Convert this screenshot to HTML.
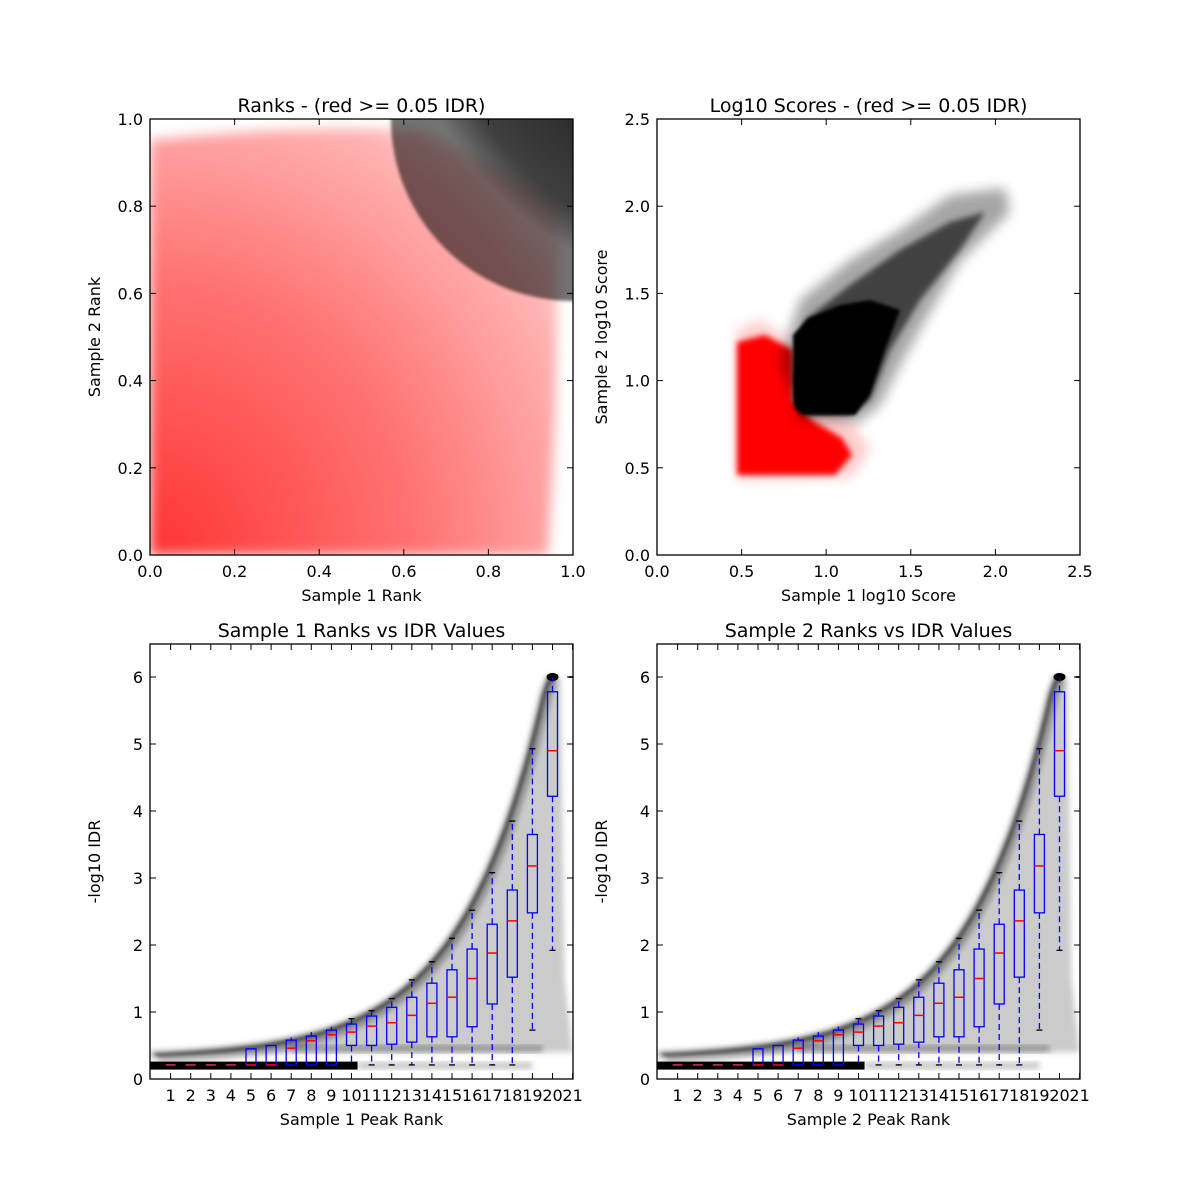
<!DOCTYPE html>
<html><head><meta charset="utf-8"><style>
html,body{margin:0;padding:0;background:#fff;}
svg{display:block;font-family:"DejaVu Sans","Liberation Sans",sans-serif;}
</style></head><body>
<svg id="s" width="1200" height="1200" xmlns="http://www.w3.org/2000/svg">
<defs>
<radialGradient id="rg" cx="0" cy="1" r="1.3">
<stop offset="0" stop-color="#f00" stop-opacity="0.8"/>
<stop offset="0.5" stop-color="#f00" stop-opacity="0.55"/>
<stop offset="0.85" stop-color="#f00" stop-opacity="0.3"/>
<stop offset="1" stop-color="#f00" stop-opacity="0.08"/>
</radialGradient>
<radialGradient id="bg" cx="1" cy="0" r="1">
<stop offset="0" stop-color="#000" stop-opacity="1"/>
<stop offset="0.45" stop-color="#000" stop-opacity="0.92"/>
<stop offset="0.9" stop-color="#000" stop-opacity="0.75"/>
<stop offset="1" stop-color="#000" stop-opacity="0.55"/>
</radialGradient>
<filter id="bl"><feGaussianBlur stdDeviation="3"/></filter>
<filter id="bl2"><feGaussianBlur stdDeviation="6"/></filter>
<filter id="bl1"><feGaussianBlur stdDeviation="1.5"/></filter>
<clipPath id="c1"><rect x="150" y="119" width="423" height="436"/></clipPath>
<clipPath id="c3"><rect x="150" y="644" width="423" height="435"/></clipPath>
<clipPath id="c4"><rect x="657" y="644" width="423" height="435"/></clipPath>
</defs>
<g clip-path="url(#c1)">
<path d="M150,555 L150,140 Q300,125 420,130 L560,200 L555,420 L548,555 Z" fill="url(#rg)" filter="url(#bl2)"/>
<circle cx="573" cy="119" r="182" fill="url(#bg)" filter="url(#bl1)"/>
</g>
<g>
<path d="M737,475 L835,475 L852,455 L842,438 L812,420 L793,400 L793,350 L765,335 L737,342 Z" fill="#f00" filter="url(#bl)"/>
<path d="M737,480 L850,478 L870,450 L850,420 L800,395 L790,340 L760,320 L737,330 Z" fill="#f00" opacity="0.2" filter="url(#bl2)"/>
<path d="M780,360 L800,300 L850,260 L900,230 L950,195 L1005,188 L1010,212 L960,262 L930,312 L900,365 L880,405 L860,422 L800,420 Z" fill="#000" opacity="0.35" filter="url(#bl2)"/>
<path d="M793,380 L805,320 L850,285 L900,250 L950,222 L985,212 L960,250 L920,300 L890,350 L870,400 L850,415 L800,415 Z" fill="#000" opacity="0.6" filter="url(#bl)"/>
<path d="M793,398 Q793,415 810,415 L855,415 L870,395 L885,350 L900,310 L870,300 L840,305 L808,318 L793,335 Z" fill="#000" filter="url(#bl1)"/>
</g>
<g id="dyn"></g>
</svg>
<script>
var s=document.getElementById('dyn'),h='';
function ax(x,y,w,hh){h+='<rect x="'+x+'" y="'+y+'" width="'+w+'" height="'+hh+'" fill="none" stroke="#000" stroke-width="1.3"/>';}
function tx(x,y,t,a,sz,rot){h+='<text x="'+x+'" y="'+y+'" font-size="'+(sz||16)+'" text-anchor="'+(a||'middle')+'"'+(rot?' transform="rotate(-90 '+x+' '+y+')"':'')+'>'+t+'</text>';}
function tick(x1,y1,x2,y2){h+='<line x1="'+x1+'" y1="'+y1+'" x2="'+x2+'" y2="'+y2+'" stroke="#000" stroke-width="1"/>';}
function frame(L,T,W,H,xt,yt,xlab,ylab,title){
 xt.forEach(function(v){tick(v[0],T+H,v[0],T+H-6);tick(v[0],T,v[0],T+6);tx(v[0],T+H+22,v[1]);});
 yt.forEach(function(v){tick(L,v[0],L+6,v[0]);tick(L+W,v[0],L+W-6,v[0]);tx(L-7,v[0]+6,v[1],'end');});
 ax(L,T,W,H);tx(L+W/2,T+H+46,xlab);tx(L-50,T+H/2,ylab,'middle',16,1);tx(L+W/2,T-7,title,'middle',19);
}
var xt=[],yt=[];
for(var i=0;i<=5;i++){xt.push([150+84.6*i,(i/5).toFixed(1)]);yt.push([555-87.2*i,(i/5).toFixed(1)]);}
frame(150,119,423,436,xt,yt,'Sample 1 Rank','Sample 2 Rank','Ranks - (red &gt;= 0.05 IDR)');
xt=[];yt=[];
for(i=0;i<=5;i++){xt.push([657+84.6*i,(i/2).toFixed(1)]);yt.push([555-87.2*i,(i/2).toFixed(1)]);}
frame(657,119,423,436,xt,yt,'Sample 1 log10 Score','Sample 2 log10 Score','Log10 Scores - (red &gt;= 0.05 IDR)');
var B1=[[5,.21,.45,.21,.21,.45],[6,.21,.5,.21,.21,.5],[7,.21,.58,.46,.21,.62],[8,.21,.64,.57,.21,.7],[9,.21,.73,.66,.21,.78],[10,.5,.82,.7,.21,.9],[11,.5,.94,.79,.21,1.02],[12,.52,1.07,.84,.21,1.2],[13,.55,1.22,.95,.21,1.48],[14,.63,1.43,1.13,.21,1.75],[15,.63,1.63,1.22,.21,2.1],[16,.78,1.94,1.5,.21,2.52],[17,1.12,2.31,1.88,.21,3.08],[18,1.52,2.82,2.36,.21,3.85],[19,2.48,3.65,3.18,.73,4.93],[20,4.22,5.78,4.9,1.92,6]];
function bottom(L,clip,lab){
 var T=644,H=435,W=423;
 function X(v){return L+0.5+20.1*v;} function Y(v){return 1079-67*v;}
 var g='<g clip-path="url(#'+clip+')">';
 var up=[],p='';
 for(var x=0.3;x<=20.05;x+=0.25){var f=Math.min(6,0.35+0.05*Math.exp(0.24*x));up.push([X(x),Y(f)]);}
 p='M'+X(0.3)+','+Y(0.38);up.forEach(function(q){p+=' L'+q[0].toFixed(1)+','+q[1].toFixed(1);});
 p+=' L'+X(20.4)+','+Y(6)+' L'+X(20.6)+','+Y(1.5)+' L'+X(21)+','+Y(0.4)+' Z';
 g+='<path d="'+p+'" fill="#000" opacity="0.2" filter="url(#bl)"/>';
 var q='M'+up[0][0]+','+up[0][1];up.forEach(function(r){q+=' L'+r[0].toFixed(1)+','+r[1].toFixed(1);});
 g+='<path d="'+q+'" fill="none" stroke="#000" stroke-width="12" opacity="0.3" filter="url(#bl)" transform="translate(2,5)"/>';
 g+='<path d="'+q+'" fill="none" stroke="#000" stroke-width="4" opacity="0.45" transform="translate(1,3)" filter="url(#bl1)"/>';
 g+='<rect x="'+X(7)+'" y="'+(Y(0.45)-4)+'" width="'+(X(19.5)-X(7))+'" height="8" fill="#000" opacity="0.25" filter="url(#bl)"/>';
 g+='<rect x="'+L+'" y="'+(Y(0.2)-4)+'" width="'+(X(10.3)-L)+'" height="8" fill="#000"/>';
 g+='<rect x="'+X(10.3)+'" y="'+(Y(0.2)-4)+'" width="'+(X(19)-X(10.3))+'" height="8" fill="#000" opacity="0.2" filter="url(#bl)"/>';
 g+='<ellipse cx="'+X(20)+'" cy="'+Y(6)+'" rx="6" ry="4" fill="#000"/>';
 g+='</g>';
 for(var k=1;k<=4;k++)g+='<line x1="'+(X(k)-5)+'" y1="'+Y(0.21)+'" x2="'+(X(k)+5)+'" y2="'+Y(0.21)+'" stroke="#d03070" stroke-width="1.5"/>';
 g+='<line x1="'+(X(20.8))+'" y1="'+Y(6)+'" x2="'+(L+W)+'" y2="'+Y(6)+'" stroke="#802060" stroke-width="2"/>';
 B1.forEach(function(b){var c=X(b[0]),w=5;
  g+='<line x1="'+c+'" y1="'+Y(b[1])+'" x2="'+c+'" y2="'+Y(b[4])+'" stroke="#00f" stroke-width="1.3" stroke-dasharray="6,4"/>';
  g+='<line x1="'+c+'" y1="'+Y(b[2])+'" x2="'+c+'" y2="'+Y(b[5])+'" stroke="#00f" stroke-width="1.3" stroke-dasharray="6,4"/>';
  if(b[0]>=10){g+='<line x1="'+(c-3)+'" y1="'+Y(b[4])+'" x2="'+(c+3)+'" y2="'+Y(b[4])+'" stroke="#000" stroke-width="1.3"/>';
   g+='<line x1="'+(c-3)+'" y1="'+Y(b[5])+'" x2="'+(c+3)+'" y2="'+Y(b[5])+'" stroke="#000" stroke-width="1.3"/>';}
  g+='<rect x="'+(c-w)+'" y="'+Y(b[2])+'" width="'+(2*w)+'" height="'+(Y(b[1])-Y(b[2]))+'" fill="none" stroke="#00f" stroke-width="1.3"/>';
  g+='<line x1="'+(c-w)+'" y1="'+Y(b[3])+'" x2="'+(c+w)+'" y2="'+Y(b[3])+'" stroke="#f00" stroke-width="1.5"/>';
 });
 h+=g;
 var xt=[],yt=[];
 for(var j=1;j<=21;j++)xt.push([X(j),j]);
 for(j=0;j<=6;j++)yt.push([Y(j),j]);
 frame(L,T,W,H,xt,yt,lab+' Peak Rank','-log10 IDR',lab+' Ranks vs IDR Values');
}
bottom(150,'c3','Sample 1');
bottom(657,'c4','Sample 2');
s.innerHTML=h;
</script>
</body></html>
